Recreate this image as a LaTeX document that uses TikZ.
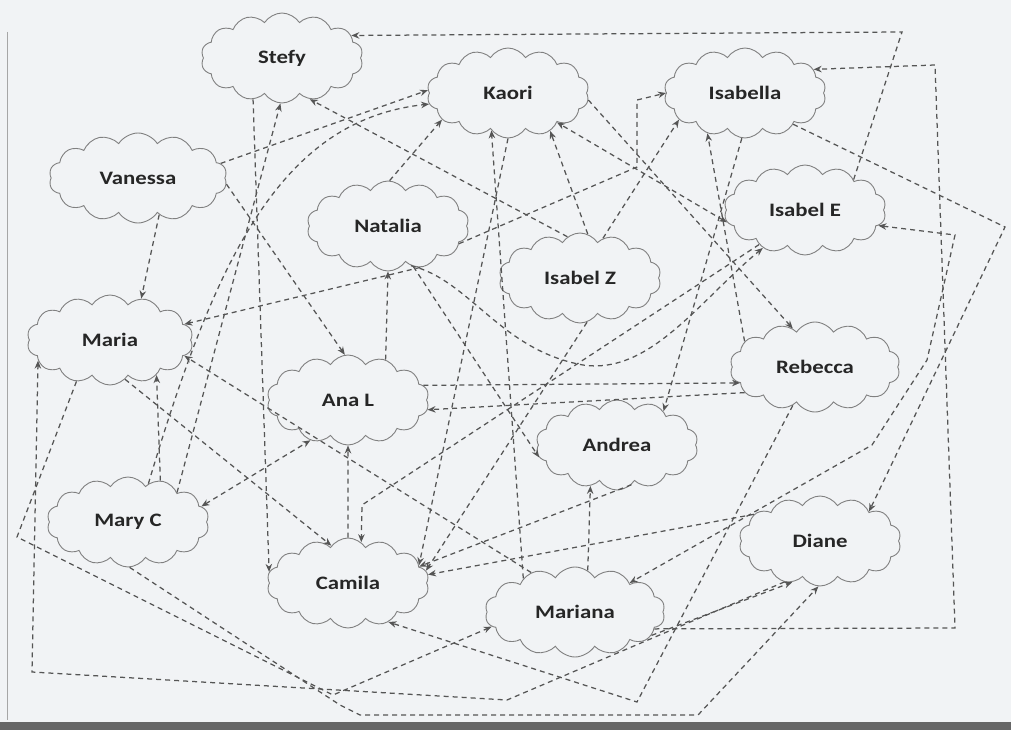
\documentclass[tikz,border=0pt]{standalone}
\usepackage{fontspec}
\setmainfont{Carlito}[FakeStretch=1.2]
\usetikzlibrary{shapes.symbols,arrows.meta}
\definecolor{bg}{HTML}{F1F3F5}
\definecolor{ln}{HTML}{555555}
\definecolor{cl}{HTML}{808080}
\tikzset{
  cloudnode/.style={cloud, cloud puffs=14, cloud puff arc=115, cloud ignores aspect,
    draw=cl, line width=0.9pt, minimum width=162pt, minimum height=90pt, inner sep=0pt,
    font=\fontsize{19}{22}\selectfont\bfseries, text=black!85},
  e/.style={draw=ln, line width=1.25pt, dash pattern=on 5pt off 4pt,
    -{Stealth[length=8pt,width=6.5pt,open]}},
  ee/.style={e, {Stealth[length=8pt,width=6.5pt,open]}-{Stealth[length=8pt,width=6.5pt,open]}}
}
\begin{document}
\begin{tikzpicture}[x=1pt,y=-1pt]
\useasboundingbox (0,0) rectangle (1011,730);
\fill[bg] (0,0) rectangle (1011,730);
\fill[black!60] (0,722) rectangle (1011,730);
\draw[black!35, line width=0.6pt] (7,32) -- (7,720);

% nodes
\node[cloudnode] (stefy) at (282,58) {Stefy};
\node[cloudnode] (kaori) at (508,93) {Kaori};
\node[cloudnode] (isabella) at (745,93) {Isabella};
\node[cloudnode, minimum width=178pt] (vanessa) at (138,178) {Vanessa};
\node[cloudnode] (natalia) at (388,226) {Natalia};
\node[cloudnode] (isabele) at (805,210) {Isabel E};
\node[cloudnode] (isabelz) at (580,278) {Isabel Z};
\node[cloudnode, minimum width=166pt] (maria) at (110,340) {Maria};
\node[cloudnode, minimum width=170pt] (rebecca) at (815,367) {Rebecca};
\node[cloudnode] (anal) at (348,400) {Ana L};
\node[cloudnode] (andrea) at (617,445) {Andrea};
\node[cloudnode] (maryc) at (128,522) {Mary C};
\node[cloudnode] (diane) at (820,541) {Diane};
\node[cloudnode] (camila) at (348,583) {Camila};
\node[cloudnode, minimum width=180pt] (mariana) at (575,612) {Mariana};

% bend points
\coordinate (b1a) at (902,32);
\coordinate (b13a) at (955,628); \coordinate (b13b) at (935,65);
\coordinate (b14a) at (955,235); \coordinate (b14b) at (927,360); \coordinate (b14c) at (872,445);
\coordinate (b15) at (1005,227);
\coordinate (b17a) at (637,167); \coordinate (b17b) at (637,100);
\coordinate (b20) at (637,702);
\coordinate (b21a) at (340,705); \coordinate (b21b) at (360,715); \coordinate (b21c) at (698,715);
\coordinate (b22a) at (507,700); \coordinate (b22b) at (32,672);
\coordinate (b23a) at (17,537); \coordinate (b23b) at (333,695);
\coordinate (b29) at (362,505);
\coordinate (c30) at (583,365);

% connectors
\draw[e] (isabele.32) -- (b1a) -- (stefy.18);
\draw[e] (stefy.235) -- (camila.172);
\draw[e] (maryc.31) -- (stefy.268);
\draw[e] (vanessa.10) -- (kaori.178);
\draw[e] (maryc.62) .. controls (215,260) and (280,120) .. (kaori.188);
\draw[e] (natalia.88) -- (kaori.202);
\draw[e] (natalia.308) -- (maria.12);
\draw[e] (mariana.147) -- (kaori.246);
\draw[e] (kaori.270) -- (camila.14);
\draw[e] (isabelz.80) -- (kaori.318);
\draw[ee] (isabele.189) -- (kaori.329);
\draw[e] (kaori.355) -- (rebecca.120);
\draw[e] (mariana.348) -- (b13a) -- (b13b) -- (isabella.19);
\draw[ee] (isabele.348) -- (b14a) -- (b14b) -- (b14c) -- (mariana.28);
\draw[e] (isabella.327) -- (b15) -- (diane.31);
\draw[e] (isabelz.60) -- (isabella.202);
\draw[e] (natalia.346) -- (b17a) -- (b17b) -- (isabella.180);
\draw[e] (rebecca.160) -- (isabella.227);
\draw[e] (isabella.266) -- (andrea.36);
\draw[e] (rebecca.240) -- (b20) -- (camila.316);
\draw[e] (maryc.272) -- (b21a) -- (b21b) -- (b21c) -- (diane.268);
\draw[e] (diane.229) -- (b22a) -- (b22b) -- (maria.196);
\draw[e] (maria.231) -- (b23a) -- (b23b) -- (mariana.190);
\draw[e] (vanessa.300) -- (maria.53);
\draw[e] (vanessa.356) -- (anal.94);
\draw[e] (natalia.302) -- (andrea.189);
\draw[ee] (maryc.12) -- (anal.227);
\draw[e] (camila.90) -- (anal.270);
\draw[e] (isabele.217) -- (b29) -- (camila.72);
\draw[e] (natalia.300) .. controls (470,280) and (500,350) .. (c30) .. controls (650,375) and (700,300) .. (isabele.222);
\draw[e] (diane.158) -- (camila.6);
\draw[e] (andrea.290) -- (camila.13);
\draw[e] (mariana.73) -- (andrea.237);
\draw[e] (anal.11) -- (rebecca.192);
\draw[e] (rebecca.200) -- (anal.353);
\draw[e] (maria.291) -- (camila.114);
\draw[e] (mariana.138) -- (maria.348);
\draw[e] (isabelz.107) -- (stefy.304);
\draw[e] (isabelz.279) -- (camila.9);
\draw[e] (anal.47) -- (natalia.270);
\draw[e] (maryc.52) -- (maria.323);
\draw[e] (mariana.343) -- (diane.236);
\end{tikzpicture}
\end{document}
